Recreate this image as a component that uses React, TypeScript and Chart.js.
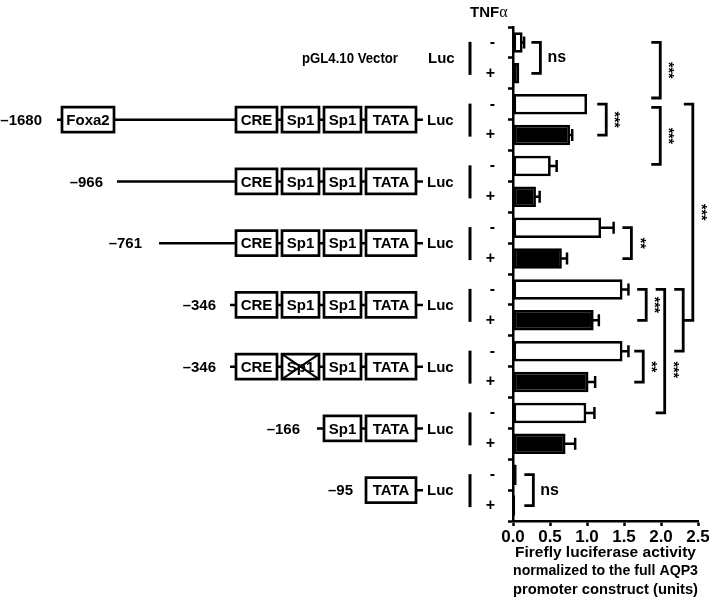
import React, { useEffect, useRef } from "react";
import { Chart, registerables } from "chart.js";
Chart.register(...registerables);

// ---------- data ----------
const constructs = ["pGL4.10 Vector", "–1680", "–966", "–761", "–346", "–346 (mutSp1)", "–166", "–95"];
const treatmentLabels = ["-", "+"];
const untreated = [0.13, 1.0, 0.51, 1.19, 1.48, 1.48, 0.99, 0.05];
const untreatedErr = [0.02, 0.0, 0.08, 0.17, 0.08, 0.08, 0.11, 0.0];
const treated = [0.085, 0.77, 0.31, 0.66, 1.09, 1.02, 0.71, 0.03];
const treatedErr = [0.0, 0.03, 0.05, 0.07, 0.07, 0.09, 0.13, 0.0];
const xTicks = [0, 0.5, 1.0, 1.5, 2.0, 2.5];
const axisTitle = ["Firefly luciferase activity", "normalized to the full AQP3", "promoter construct (units)"];
const rowLabels = ["pGL4.10 Vector", "–1680", "–966", "–761", "–346", "–346", "–166", "–95"];
const rowElements = [
  [],
  ["foxa2", "cre", "sp1a", "sp1b", "tata"],
  ["cre", "sp1a", "sp1b", "tata"],
  ["cre", "sp1a", "sp1b", "tata"],
  ["cre", "sp1a", "sp1b", "tata"],
  ["cre", "sp1aX", "sp1b", "tata"],
  ["sp1b", "tata"],
  ["tata"],
];
// significance brackets: from/to in category index, x in data units
const brackets = [
  { from: 0, to: 1, x: 0.37, label: "ns" },
  { from: 2, to: 3, x: 1.26, label: "***" },
  { from: 6, to: 7, x: 1.6, label: "**" },
  { from: 8, to: 9, x: 1.8, label: "***" },
  { from: 10, to: 11, x: 1.76, label: "**" },
  { from: 14, to: 15, x: 0.275, label: "ns" },
  { from: 0, to: 1.8, x: 1.99, label: "***" },
  { from: 2.1, to: 3.95, x: 1.99, label: "***" },
  { from: 8, to: 12, x: 2.05, label: "***", labelAt: 10.6 },
  { from: 8, to: 10, x: 2.3, label: "" },
  { from: 2, to: 9, x: 2.43, label: "***" },
];

// built from the arrays above
const categories = constructs.flatMap((c) => [c + " -", c + " +"]);
const barValues = constructs.flatMap((_, i) => [untreated[i], treated[i]]);
const barErrors = constructs.flatMap((_, i) => [untreatedErr[i], treatedErr[i]]);
const barColors = constructs.flatMap(() => ["#ffffff", "#000000"]);

// ---------- layout / style ----------
const FONT = "'Liberation Sans', Arial, Helvetica, sans-serif";
const LW = 2.5;
const BOX_X: Record<string, [number, number, string]> = {
  foxa2: [62, 114, "Foxa2"],
  cre: [236, 277, "CRE"],
  sp1a: [282, 319, "Sp1"],
  sp1aX: [282, 319, "Sp1"],
  sp1b: [324, 361, "Sp1"],
  tata: [366, 416, "TATA"],
};
const ROW_LAYOUT = [
  { labelRight: 398, lineStart: null as number | null, maxW: 96 },
  { labelRight: 42, lineStart: 57, maxW: 0 },
  { labelRight: 103, lineStart: 117, maxW: 0 },
  { labelRight: 142, lineStart: 159, maxW: 0 },
  { labelRight: 216, lineStart: 230, maxW: 0 },
  { labelRight: 216, lineStart: 230, maxW: 0 },
  { labelRight: 300, lineStart: 317, maxW: 0 },
  { labelRight: 353, lineStart: 366, maxW: 0 },
];
const LINE_END = 423;
const LUC_X = 427;
const VBAR_X = 470;

const overlay = {
  id: "overlay",
  afterDraw(chart: any) {
    const ctx: CanvasRenderingContext2D = chart.ctx;
    const xs = chart.scales.x;
    const ys = chart.scales.y;
    ctx.save();
    ctx.strokeStyle = "#000";
    ctx.fillStyle = "#000";
    ctx.lineWidth = LW;
    ctx.lineCap = "butt";

    // error bars
    for (let i = 0; i < barValues.length; i++) {
      const e = barErrors[i];
      if (!e) continue;
      const y = ys.getPixelForValue(i);
      const x0 = xs.getPixelForValue(barValues[i]) - 1;
      const x1 = xs.getPixelForValue(barValues[i] + e);
      ctx.beginPath();
      ctx.moveTo(x0, y);
      ctx.lineTo(x1, y);
      ctx.moveTo(x1, y - 6);
      ctx.lineTo(x1, y + 6);
      ctx.stroke();
    }

    // promoter diagrams
    rowLabels.forEach((label, r) => {
      const cy = (ys.getPixelForValue(2 * r) + ys.getPixelForValue(2 * r + 1)) / 2;
      const lay = ROW_LAYOUT[r];
      ctx.fillStyle = "#000";
      ctx.textBaseline = "middle";
      ctx.textAlign = "right";
      ctx.font = `bold 15px ${FONT}`;
      if (lay.maxW) ctx.fillText(label, lay.labelRight, cy + 1, lay.maxW);
      else ctx.fillText(label, lay.labelRight, cy + 1);
      if (lay.lineStart != null) {
        ctx.lineWidth = LW;
        ctx.beginPath();
        ctx.moveTo(lay.lineStart, cy);
        ctx.lineTo(LINE_END, cy);
        ctx.stroke();
      }
      rowElements[r].forEach((key) => {
        const [x0, x1, txt] = BOX_X[key];
        const h = 25;
        ctx.fillStyle = "#fff";
        ctx.fillRect(x0, cy - h / 2, x1 - x0, h);
        ctx.lineWidth = 2.7;
        ctx.strokeRect(x0, cy - h / 2, x1 - x0, h);
        ctx.fillStyle = "#000";
        ctx.textAlign = "center";
        ctx.fillText(txt, (x0 + x1) / 2, cy + 1);
        if (key === "sp1aX") {
          ctx.lineWidth = 2;
          ctx.beginPath();
          ctx.moveTo(x0, cy - h / 2);
          ctx.lineTo(x1, cy + h / 2);
          ctx.moveTo(x1, cy - h / 2);
          ctx.lineTo(x0, cy + h / 2);
          ctx.stroke();
        }
      });
      ctx.textAlign = "left";
      ctx.fillText("Luc", r === 0 ? LUC_X + 1 : LUC_X, cy + 1);
      ctx.fillRect(VBAR_X - 1.5, cy - 16, 3, 33);
    });

    // brackets
    ctx.lineWidth = 2.8;
    ctx.lineJoin = "miter";
    brackets.forEach((b) => {
      const x = xs.getPixelForValue(b.x);
      const y1 = ys.getPixelForValue(b.from);
      const y2 = ys.getPixelForValue(b.to);
      ctx.beginPath();
      ctx.moveTo(x - 9, y1);
      ctx.lineTo(x, y1);
      ctx.lineTo(x, y2);
      ctx.lineTo(x - 9, y2);
      ctx.stroke();
      if (!b.label) return;
      const ly = b.labelAt != null ? ys.getPixelForValue(b.labelAt) : (y1 + y2) / 2;
      if (b.label === "ns") {
        ctx.font = `bold 16px ${FONT}`;
        ctx.textAlign = "left";
        ctx.textBaseline = "middle";
        ctx.fillText("ns", x + 7, ly);
      } else {
        ctx.save();
        ctx.translate(x + 10, ly);
        ctx.rotate(Math.PI / 2);
        ctx.font = `bold 14px ${FONT}`;
        ctx.textAlign = "center";
        ctx.textBaseline = "middle";
        ctx.fillText(b.label, 0, 2);
        ctx.restore();
      }
    });

    // TNFα header
    ctx.textAlign = "left";
    ctx.textBaseline = "middle";
    ctx.font = `bold 15px ${FONT}`;
    ctx.fillText("TNF", 470, 13);
    const w = ctx.measureText("TNF").width;
    ctx.font = `16px 'Liberation Serif', 'Times New Roman', serif`;
    ctx.fillText("α", 470 + w, 13);
    ctx.restore();
  },
};

export default function App() {
  const ref = useRef<HTMLCanvasElement>(null);
  useEffect(() => {
    Chart.defaults.color = "#000";
    const chart = new Chart(ref.current as HTMLCanvasElement, {
      type: "bar",
      data: {
        labels: categories,
        datasets: [
          {
            data: barValues,
            backgroundColor: barColors,
            borderColor: "#000",
            borderWidth: 2.7,
            borderSkipped: false,
            categoryPercentage: 1,
            barPercentage: 0.66,
          } as any,
        ],
      },
      options: {
        indexAxis: "y",
        responsive: false,
        animation: false,
        devicePixelRatio: 1,
        layout: { padding: { top: 27, left: 0, right: 0, bottom: 0 } },
        plugins: { legend: { display: false }, tooltip: { enabled: false } },
        scales: {
          x: {
            type: "linear",
            min: 0,
            max: 2.5,
            afterBuildTicks: (s: any) => {
              s.ticks = xTicks.map((v) => ({ value: v }));
            },
            ticks: {
              callback: (v: any) => Number(v).toFixed(1),
              font: { family: FONT, size: 17, weight: "bold" },
              color: "#000",
              padding: 1,
              maxRotation: 0,
              autoSkip: false,
            },
            grid: { drawOnChartArea: false, tickLength: 5, tickWidth: 2.5, tickColor: "#000" },
            border: { color: "#000", width: 2.5 },
            title: {
              display: true,
              text: axisTitle,
              color: "#000",
              font: { family: FONT, size: 15.5, weight: "bold", lineHeight: 1.2 },
              padding: { top: 0, bottom: 1 },
            },
            afterFit: (s: any) => {
              s.height = 79;
              s.paddingRight = 11;
              s.paddingLeft = 0;
            },
          },
          y: {
            type: "category",
            ticks: {
              callback: (_v: any, i: number) => treatmentLabels[i % 2],
              font: { family: FONT, size: 16, weight: "bold" },
              color: "#000",
              padding: 13,
              autoSkip: false,
            },
            grid: { drawOnChartArea: false, tickLength: 5, tickWidth: 2.5, tickColor: "#000" },
            border: { color: "#000", width: 2.5 },
            afterFit: (s: any) => {
              s.width = 513;
              s.paddingTop = 0;
              s.paddingBottom = 0;
            },
          },
        },
      } as any,
      plugins: [overlay],
    });
    return () => chart.destroy();
  }, []);
  return (
    <div style={{ position: "absolute", left: 0, top: 0, width: 709, height: 600, background: "#fff" }}>
      <canvas ref={ref} width={709} height={600} style={{ display: "block", width: 709, height: 600 }} />
    </div>
  );
}
